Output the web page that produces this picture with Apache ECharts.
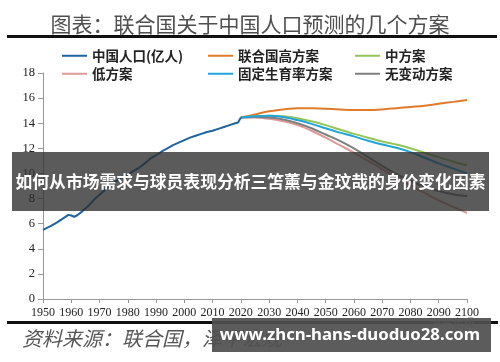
<!DOCTYPE html>
<html><head><meta charset="utf-8">
<script src="https://cdn.jsdelivr.net/npm/echarts@6/dist/echarts.min.js"></script>
<style>html,body{margin:0;padding:0;background:#fff}#c{width:500px;height:362px}</style>
</head><body><div id="c"></div>
<script>
// ---- data ----
const histYears = [1950,1953,1955,1957,1959,1960,1961,1962,1964,1966,1968,1970,1972,1974,1976,1978,1980,1982,1984,1986,1988,1990,1992,1994,1996,1998,2000,2002,2004,2006,2008,2010,2012,2014,2016,2018,2019,2020];
const histPop   = [5.5,5.85,6.1,6.4,6.7,6.65,6.55,6.65,7.0,7.4,7.9,8.3,8.7,9.1,9.4,9.7,9.9,10.2,10.45,10.8,11.2,11.45,11.75,12.0,12.25,12.45,12.65,12.85,13.0,13.15,13.3,13.4,13.55,13.7,13.85,14.0,14.05,14.45];
const projYears = [2020,2025,2030,2035,2040,2045,2050,2055,2060,2065,2070,2075,2080,2085,2090,2095,2100];
const highVar   = [14.45,14.7,14.95,15.1,15.2,15.2,15.15,15.1,15.05,15.05,15.1,15.2,15.3,15.4,15.55,15.7,15.85];
const medVar    = [14.45,14.55,14.6,14.55,14.4,14.15,13.85,13.5,13.15,12.85,12.55,12.3,12.0,11.65,11.3,10.95,10.65];
const lowVar    = [14.45,14.45,14.35,14.15,13.85,13.4,12.85,12.25,11.65,11.0,10.35,9.7,9.05,8.45,7.85,7.35,6.85];
const fixedFert = [14.45,14.55,14.6,14.5,14.25,13.95,13.6,13.25,12.95,12.6,12.3,12.05,11.7,11.25,10.8,10.4,10.0];
const noChange  = [14.45,14.5,14.45,14.3,14.0,13.6,13.1,12.6,12.0,11.3,10.6,9.95,9.4,8.95,8.6,8.35,8.2];
const seriesNames = ['中国人口(亿人)','联合国高方案','中方案','低方案','固定生育率方案','无变动方案'];
const seriesColors = ['#1f62a0','#e07b2c','#93c557','#dc9a98','#20a4dc','#7f7f7f'];
const xTicks = {min:1950, max:2100, step:10};
const yTicks = {min:0, max:18, step:2};
const titleText = '图表：联合国关于中国人口预测的几个方案';
const sourceText = '资料来源：联合国，泽平宏观';
const bannerText = '如何从市场需求与球员表现分析三笘薰与金玟哉的身价变化因素';
const urlText = 'www.zhcn-hans-duoduo28.com';

const zip = (xs, ys) => xs.map((x,i)=>[x, ys[i]]);
const seriesData = [zip(histYears,histPop), zip(projYears,highVar), zip(projYears,medVar), zip(projYears,lowVar), zip(projYears,fixedFert), zip(projYears,noChange)];

const legendLeft = [57,203,350,57,203,350];
const legendTop = [44,44,44,62,62,62];
const cjk = '"Noto Sans CJK SC", sans-serif';

const chart = echarts.init(document.getElementById('c'), null, {renderer:'canvas'});
chart.setOption({
  animation:false,
  backgroundColor:'#fff',
  title:{text:titleText,left:'center',top:9,textStyle:{fontFamily:cjk,fontSize:21,fontWeight:'normal',color:'#4f4f4f'}},
  legend: seriesNames.map((n,i)=>({
    data:[n], left:legendLeft[i], top:legendTop[i], itemWidth:25, itemHeight:2, icon:'rect', selectedMode:false,
    textStyle:{fontFamily:cjk,fontSize:13.5,fontWeight:'bold',color:'#222'}
  })),
  grid:{left:43,right:33,top:73,bottom:63},
  xAxis:{type:'value',min:xTicks.min,max:xTicks.max,interval:xTicks.step,
    axisLine:{show:true,lineStyle:{color:'#999',width:1}},
    axisTick:{show:true,length:4,lineStyle:{color:'#999'}},
    splitLine:{show:false},
    axisLabel:{fontFamily:'"Liberation Serif", serif',fontSize:12,color:'#222',margin:8,formatter:v=>String(v)}},
  yAxis:{type:'value',min:yTicks.min,max:yTicks.max,interval:yTicks.step,
    axisLine:{show:true,lineStyle:{color:'#999',width:1}},
    axisTick:{show:true,length:5,lineStyle:{color:'#999'}},
    splitLine:{show:false},
    axisLabel:{fontFamily:'"Liberation Serif", serif',fontSize:12.5,color:'#222',margin:8}},
  series: seriesNames.map((n,i)=>({
    name:n,type:'line',data:seriesData[i],showSymbol:false,symbol:'none',
    smooth: i===0 ? false : 0.35,
    color:seriesColors[i],
    lineStyle:{width:2,color:seriesColors[i]},
    z: [6,2,3,2,4,3][i]
  })),
  graphic:[
    {type:'rect',shape:{x:7,y:35,width:490,height:3},style:{fill:'#111'},z:50},
    {type:'rect',shape:{x:7,y:321,width:491,height:3},style:{fill:'#111'},z:50},
    {type:'text',x:22,y:338,style:{text:sourceText,font:'italic 20px "Noto Sans CJK SC"',fill:'#555',textVerticalAlign:'middle'},z:50},
    {type:'text',x:430,y:323,style:{text:'泽平宏观',font:'11px "Noto Sans CJK SC"',fill:'#aaa',textVerticalAlign:'middle'},z:51},
    {type:'rect',shape:{x:12,y:152,width:477,height:59},style:{fill:'rgba(45,45,45,0.78)'},z:100},
    {type:'text',x:250.5,y:182,style:{text:bannerText,font:'bold 16.8px "Noto Sans CJK SC"',fill:'#fff',textAlign:'center',textVerticalAlign:'middle'},z:101},
    {type:'rect',shape:{x:212,y:318,width:279,height:34},style:{fill:'rgba(80,80,80,0.93)'},z:100},
    {type:'text',x:350,y:335,style:{text:urlText,font:'bold 16.8px "Noto Sans", sans-serif',fill:'#fff',textAlign:'center',textVerticalAlign:'middle'},z:101}
  ]
});
</script></body></html>
